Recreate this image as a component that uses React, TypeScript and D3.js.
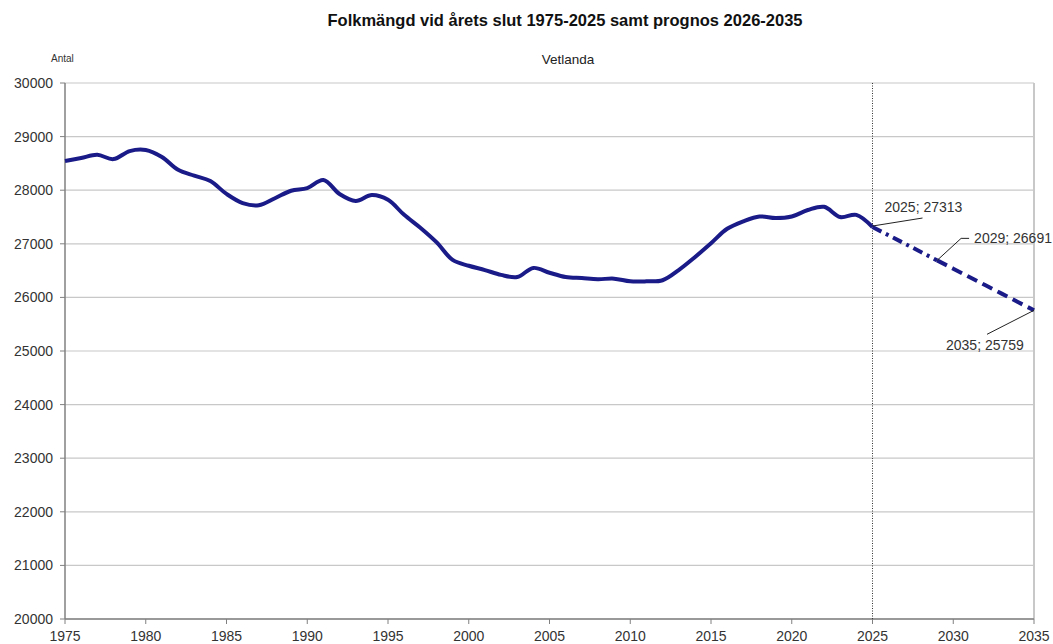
import React from 'react';
import * as d3 from 'd3';

const years = d3.range(1975, 2026);
const population = [
  28545, 28600, 28660, 28580, 28730, 28750, 28620, 28380, 28270, 28170,
  27930, 27760, 27720, 27850, 27990, 28040, 28190, 27930, 27800, 27910,
  27820, 27540, 27300, 27030, 26700, 26590, 26510, 26420, 26380, 26550,
  26460, 26380, 26360, 26340, 26350, 26300, 26300, 26320, 26510, 26750,
  27010, 27280, 27420, 27510, 27480, 27510, 27630, 27690, 27500, 27540,
  27313,
];
const prognosYears = d3.range(2025, 2036);
const prognos = [27313, 27158, 27003, 26847, 26691, 26536, 26381, 26225, 26070, 25914, 25759];
const xTicks = d3.range(1975, 2036, 5);
const yTicks = d3.range(20000, 30001, 1000);
const labels = [
  { year: 2025, value: 27313 },
  { year: 2029, value: 26691 },
  { year: 2035, value: 25759 },
];

const W = 1053;
const H = 644;
const left = 65;
const right = 1034;
const top = 83;
const bottom = 619;

export default function App() {
  const x = d3.scaleLinear().domain([1975, 2035]).range([left, right]);
  const y = d3.scaleLinear().domain([20000, 30000]).range([bottom, top]);

  const line = d3.line<[number, number]>()
    .x(d => x(d[0]))
    .y(d => y(d[1]))
    .curve(d3.curveCatmullRom);

  const hist = years.map((yr, i) => [yr, population[i]] as [number, number]);
  const prog = prognosYears.map((yr, i) => [yr, prognos[i]] as [number, number]);
  const progA = prog.slice(0, 5);
  const progB = prog.slice(4);
  const straight = d3.line<[number, number]>().x(d => x(d[0])).y(d => y(d[1]));

  const font = 'Liberation Sans, Arial, sans-serif';
  const navy = '#1a1a88';

  const [l25, l29, l35] = labels;

  return (
    <svg width={W} height={H} style={{ position: 'absolute', left: 0, top: 0 }} fontFamily={font}>
      <rect width={W} height={H} fill="#fff" />
      <text x={565} y={26} textAnchor="middle" fontSize={16.5} fontWeight="bold" fill="#111">
        Folkmängd vid årets slut 1975-2025 samt prognos 2026-2035
      </text>
      <text x={568} y={64} textAnchor="middle" fontSize={13.5} fill="#222">Vetlanda</text>
      <text x={51} y={62} fontSize={10} fill="#333">Antal</text>

      {yTicks.map(t => (
        <g key={t}>
          <line x1={left} x2={right} y1={y(t)} y2={y(t)} stroke="#c8c8c8" strokeWidth={1.2} />
          <line x1={left - 5} x2={left} y1={y(t)} y2={y(t)} stroke="#808080" />
          <text x={53} y={y(t) + 5} textAnchor="end" fontSize={14} fill="#333">{t}</text>
        </g>
      ))}
      <line x1={right} x2={right} y1={top} y2={bottom} stroke="#c8c8c8" strokeWidth={2} />
      <line x1={left} x2={left} y1={top} y2={bottom} stroke="#808080" strokeWidth={1.5} />
      <line x1={left} x2={right} y1={bottom} y2={bottom} stroke="#808080" strokeWidth={1.5} />
      {xTicks.map(t => (
        <g key={t}>
          <line x1={x(t)} x2={x(t)} y1={bottom} y2={bottom + 5} stroke="#808080" />
          <text x={x(t)} y={bottom + 22} textAnchor="middle" fontSize={14} fill="#333">{t}</text>
        </g>
      ))}

      <line x1={x(2025)} x2={x(2025)} y1={top} y2={bottom} stroke="#333" strokeWidth={1} strokeDasharray="1,1.5" />

      <path d={line(hist) || ''} fill="none" stroke={navy} strokeWidth={4} strokeLinejoin="round" />
      <path d={straight(progA) || ''} fill="none" stroke={navy} strokeWidth={4} strokeDasharray="10,5,3,5" />
      <path d={straight(progB) || ''} fill="none" stroke={navy} strokeWidth={4} strokeDasharray="11,6" />

      <g stroke="#222" strokeWidth={1} fill="none">
        <polyline points={`${x(l25.year)},${y(l25.value) - 1} ${x(l25.year) + 50},${y(l25.value) - 9}`} />
        <polyline points={`${x(l29.year)},${y(l29.value)} ${x(l29.year) + 24},${y(l29.value) - 22} ${x(l29.year) + 32},${y(l29.value) - 22}`} />
        <polyline points={`${x(l35.year)},${y(l35.value)} ${x(l35.year) - 47},${y(l35.value) + 24}`} />
      </g>
      <g fontSize={14} fill="#333">
        <text x={x(l25.year) + 12} y={y(l25.value) - 15}>{`${l25.year}; ${l25.value}`}</text>
        <text x={x(l29.year) + 37} y={y(l29.value) - 17}>{`${l29.year}; ${l29.value}`}</text>
        <text x={x(l35.year) - 88} y={y(l35.value) + 40}>{`${l35.year}; ${l35.value}`}</text>
      </g>
    </svg>
  );
}
